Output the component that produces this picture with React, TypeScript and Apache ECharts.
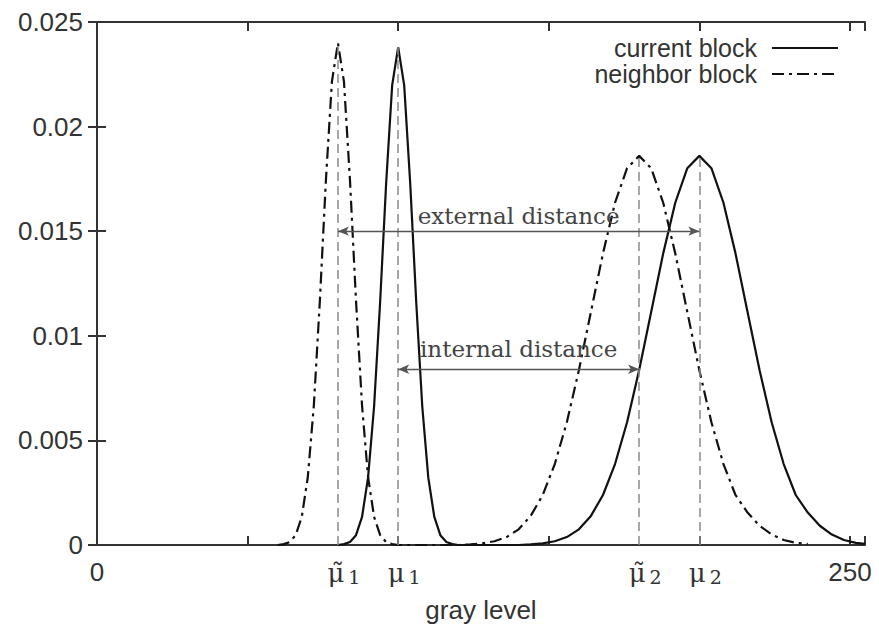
import { useEffect, useRef } from 'react';
import * as echarts from 'echarts';

// Gray-level histograms of the two blocks (probability per gray level)
const currentLevels = [
  80, 82, 84, 86, 88, 90, 92, 94, 96, 98, 100, 102, 104, 106, 108, 110, 112, 114, 116, 118, 120,
  140, 144, 148, 152, 156, 160, 164, 168, 172, 176, 180, 184, 188, 192, 196, 200,
  204, 208, 212, 216, 220, 224, 228, 232, 236, 240, 244, 248, 252, 255,
];
const currentDensity = [
  0, 0.00004, 0.00014, 0.00047, 0.00134, 0.00322, 0.00662, 0.01159, 0.01728, 0.02197, 0.0238,
  0.02197, 0.01728, 0.01159, 0.00662, 0.00322, 0.00134, 0.00047, 0.00014, 0.00004, 0,
  0, 0.00003, 0.00008, 0.00018, 0.00038, 0.00075, 0.00139, 0.00239, 0.00387, 0.00587, 0.00835,
  0.01114, 0.01394, 0.01636, 0.01801, 0.0186,
  0.01801, 0.01636, 0.01394, 0.01114, 0.00835, 0.00587, 0.00387, 0.00239, 0.00155, 0.00092,
  0.0005, 0.00024, 0.0001, 0.00005,
];
const neighborLevels = [
  60, 62, 64, 66, 68, 70, 72, 74, 76, 78, 80, 82, 84, 86, 88, 90, 92, 94, 96, 98, 100,
  120, 124, 128, 132, 136, 140, 144, 148, 152, 156, 160, 164, 168, 172, 176, 180,
  184, 188, 192, 196, 200, 204, 208, 212, 216, 220, 224, 228, 232, 236,
];
const neighborDensity = [
  0, 0.00004, 0.00014, 0.00048, 0.00135, 0.00325, 0.00667, 0.01168, 0.01743, 0.02215, 0.024,
  0.02215, 0.01743, 0.01168, 0.00667, 0.00325, 0.00135, 0.00048, 0.00014, 0.00004, 0,
  0, 0.00003, 0.00008, 0.00018, 0.00038, 0.00075, 0.00139, 0.00239, 0.00387, 0.00587, 0.00835,
  0.01114, 0.01394, 0.01636, 0.01801, 0.0186,
  0.01801, 0.01636, 0.01394, 0.01114, 0.00835, 0.00587, 0.00387, 0.00239, 0.00155, 0.00092,
  0.0005, 0.00024, 0.0001, 0.00005,
];

// Class means of each block
const currentMeans = [100, 200];
const neighborMeans = [80, 180];

// Distance annotations (height on the probability axis)
const externalDistanceLevel = 0.015;
const internalDistanceLevel = 0.0084;

// Bottom-axis labels
const xLabelValues = [0, 80, 100, 180, 200, 250];
const xLabelTexts = ['0', '{t|μ̃}{s|1}', '{m|μ}{s|1}', '{t|μ̃}{s|2}', '{m|μ}{s|2}', '250'];

const SANS = '"Liberation Sans", Arial, Helvetica, sans-serif';
const SERIF = '"DejaVu Serif", "Liberation Serif", serif';
const INK = '#333';

const zip = (xs: number[], ys: number[]) => xs.map((x, i) => [x, ys[i]]);
const valueAt = (xs: number[], ys: number[], x: number) => ys[xs.indexOf(x)];

export default function App() {
  const ref = useRef<HTMLDivElement>(null);

  useEffect(() => {
    if (!ref.current) return;
    const chart = echarts.init(ref.current, undefined, { renderer: 'svg' });

    const meanLine = (xs: number[], ys: number[], m: number) => [
      { coord: [m, 0] },
      { coord: [m, valueAt(xs, ys, m)] },
    ];
    const dashed = { color: '#8a8a8a', width: 1.5, type: [9, 5] as number[] };
    const arrowStyle = { color: '#555', width: 1.3, type: 'solid' as const };

    const tickAxisCommon = {
      type: 'value' as const,
      min: 0,
      max: 255,
      interval: 50,
      axisLabel: { show: false },
      axisTick: { show: true, inside: true, length: 9, lineStyle: { color: INK, width: 2 } },
      splitLine: { show: false },
    };

    chart.setOption({
      animation: false,
      backgroundColor: '#fff',
      grid: { left: 97, right: 14, top: 22, bottom: 87, containLabel: false },
      legend: {
        data: ['current block', 'neighbor block'],
        orient: 'vertical',
        right: 35,
        top: 30,
        align: 'right',
        itemWidth: 66,
        itemHeight: 14,
        itemGap: 0,
        selectedMode: false,
        itemStyle: { opacity: 0 },
        textStyle: {
          fontFamily: SANS,
          fontSize: 25,
          color: INK,
          lineHeight: 26,
          padding: [0, 10, 0, 0],
        },
      },
      xAxis: [
        {
          type: 'value',
          position: 'bottom',
          min: 0,
          max: 255,
          interval: 10,
          name: 'gray level',
          nameLocation: 'middle',
          nameGap: 52,
          nameTextStyle: { fontFamily: SANS, fontSize: 26, color: INK },
          axisLine: { show: true, lineStyle: { color: INK, width: 2 } },
          axisTick: { show: false },
          splitLine: { show: false },
          axisLabel: {
            margin: 14,
            fontFamily: SANS,
            fontSize: 26,
            color: INK,
            formatter: (v: number) => {
              const i = xLabelValues.indexOf(Math.round(v));
              return i >= 0 ? xLabelTexts[i] : '';
            },
            rich: {
              t: { fontFamily: SERIF, fontSize: 26, color: INK, padding: [0, 0, 0, 12] },
              m: { fontFamily: SERIF, fontSize: 26, color: INK, padding: [0, 0, 0, 12] },
              s: { fontFamily: SERIF, fontSize: 19, color: INK, padding: [8, 0, 0, 4] },
            },
          },
        },
        { ...tickAxisCommon, position: 'bottom', axisLine: { show: false } },
        {
          ...tickAxisCommon,
          position: 'top',
          axisLine: { show: true, lineStyle: { color: INK, width: 2 } },
        },
      ],
      yAxis: [
        {
          type: 'value',
          position: 'left',
          min: 0,
          max: 0.025,
          interval: 0.005,
          axisLine: { show: true, lineStyle: { color: INK, width: 2 } },
          axisTick: { show: true, inside: true, length: 9, lineStyle: { color: INK, width: 2 } },
          splitLine: { show: false },
          axisLabel: { margin: 14, fontFamily: SANS, fontSize: 26, color: INK },
        },
        {
          type: 'value',
          position: 'right',
          min: 0,
          max: 0.025,
          interval: 0.005,
          axisLine: { show: true, lineStyle: { color: INK, width: 2 } },
          axisTick: { show: true, inside: true, length: 9, lineStyle: { color: INK, width: 2 } },
          splitLine: { show: false },
          axisLabel: { show: false },
        },
      ],
      series: [
        {
          name: 'current block',
          type: 'line',
          xAxisIndex: 0,
          yAxisIndex: 0,
          data: zip(currentLevels, currentDensity),
          symbol: 'none',
          showSymbol: false,
          lineStyle: { color: '#111', width: 2.2, type: 'solid' },
          itemStyle: { color: '#111' },
          z: 3,
          markLine: {
            silent: true,
            symbol: ['none', 'none'],
            label: { show: false },
            lineStyle: dashed,
            data: currentMeans.map((m) => meanLine(currentLevels, currentDensity, m)),
          },
        },
        {
          name: 'neighbor block',
          type: 'line',
          xAxisIndex: 0,
          yAxisIndex: 0,
          data: zip(neighborLevels, neighborDensity),
          symbol: 'none',
          showSymbol: false,
          lineStyle: { color: '#111', width: 2.2, type: [12, 5, 3, 5] },
          itemStyle: { color: '#111' },
          z: 3,
          markLine: {
            silent: true,
            symbol: ['none', 'none'],
            label: { show: false },
            lineStyle: dashed,
            data: neighborMeans.map((m) => meanLine(neighborLevels, neighborDensity, m)),
          },
        },
        {
          name: 'distances',
          type: 'line',
          xAxisIndex: 0,
          yAxisIndex: 0,
          data: [],
          symbol: 'none',
          z: 4,
          markLine: {
            silent: true,
            symbol: ['arrow', 'arrow'],
            symbolSize: [7, 11],
            lineStyle: arrowStyle,
            label: {
              show: true,
              position: 'middle',
              fontFamily: SERIF,
              fontSize: 23,
              color: '#444',
              distance: 4,
            },
            data: [
              [
                { coord: [neighborMeans[0], externalDistanceLevel], label: { formatter: 'external distance', distance: 4 } },
                { coord: [currentMeans[1], externalDistanceLevel] },
              ],
              [
                { coord: [currentMeans[0], internalDistanceLevel], label: { formatter: 'internal distance', distance: 9 } },
                { coord: [neighborMeans[1], internalDistanceLevel] },
              ],
            ],
          },
        },
      ],
    });

    return () => chart.dispose();
  }, []);

  return (
    <div
      ref={ref}
      style={{ position: 'fixed', left: 0, top: 0, width: 879, height: 632, background: '#fff' }}
    />
  );
}
